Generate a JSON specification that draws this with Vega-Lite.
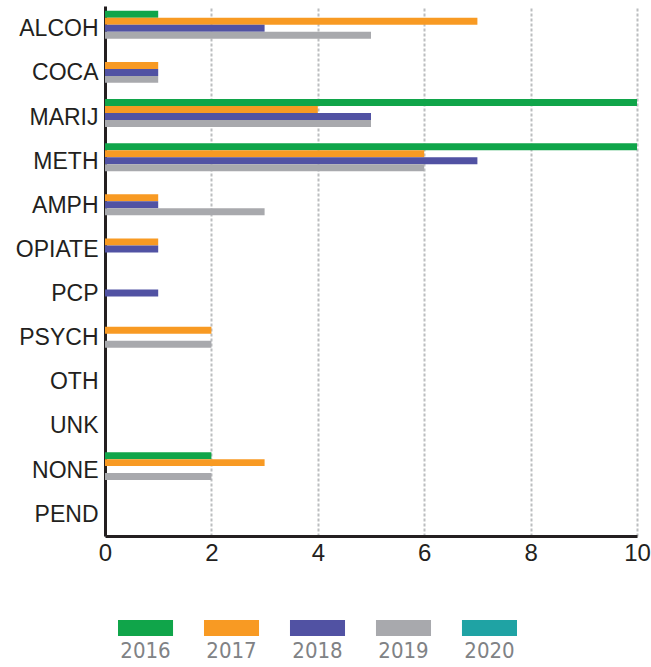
{
  "$schema": "https://vega.github.io/schema/vega-lite/v6.json",
  "padding": {"left": 5, "top": 6, "right": 5, "bottom": 0},
  "background": "white",
  "spacing": 55,
  "config": {"view": {"stroke": null}, "font": "Liberation Sans"},
  "vconcat": [
    {
      "width": 532,
      "height": 530,
      "data": {"values": [
        {"drug": "ALCOH", "year": "2016", "count": 1},
        {"drug": "ALCOH", "year": "2017", "count": 7},
        {"drug": "ALCOH", "year": "2018", "count": 3},
        {"drug": "ALCOH", "year": "2019", "count": 5},
        {"drug": "COCA", "year": "2017", "count": 1},
        {"drug": "COCA", "year": "2018", "count": 1},
        {"drug": "COCA", "year": "2019", "count": 1},
        {"drug": "MARIJ", "year": "2016", "count": 10},
        {"drug": "MARIJ", "year": "2017", "count": 4},
        {"drug": "MARIJ", "year": "2018", "count": 5},
        {"drug": "MARIJ", "year": "2019", "count": 5},
        {"drug": "METH", "year": "2016", "count": 10},
        {"drug": "METH", "year": "2017", "count": 6},
        {"drug": "METH", "year": "2018", "count": 7},
        {"drug": "METH", "year": "2019", "count": 6},
        {"drug": "AMPH", "year": "2017", "count": 1},
        {"drug": "AMPH", "year": "2018", "count": 1},
        {"drug": "AMPH", "year": "2019", "count": 3},
        {"drug": "OPIATE", "year": "2017", "count": 1},
        {"drug": "OPIATE", "year": "2018", "count": 1},
        {"drug": "PCP", "year": "2018", "count": 1},
        {"drug": "PSYCH", "year": "2017", "count": 2},
        {"drug": "PSYCH", "year": "2019", "count": 2},
        {"drug": "NONE", "year": "2016", "count": 2},
        {"drug": "NONE", "year": "2017", "count": 3},
        {"drug": "NONE", "year": "2019", "count": 2}
      ]},
      "mark": {"type": "bar"},
      "encoding": {
        "y": {
          "field": "drug", "type": "nominal",
          "sort": ["ALCOH","COCA","MARIJ","METH","AMPH","OPIATE","PCP","PSYCH","OTH","UNK","NONE","PEND"],
          "scale": {"domain": ["ALCOH","COCA","MARIJ","METH","AMPH","OPIATE","PCP","PSYCH","OTH","UNK","NONE","PEND"], "paddingInner": 0.21, "paddingOuter": 0.11},
          "axis": {"title": null, "ticks": false, "domainColor": "#231f20", "domainWidth": 3, "labelFontSize": 23, "labelColor": "#231f20", "labelPadding": 7, "labelOffset": 1, "minExtent": 100, "maxExtent": 100}
        },
        "yOffset": {
          "field": "year", "type": "nominal",
          "scale": {"domain": ["2016","2017","2018","2019","2020"], "paddingInner": 0, "paddingOuter": 0}
        },
        "x": {
          "field": "count", "type": "quantitative",
          "scale": {"domain": [0, 10], "nice": false},
          "axis": {"title": null, "ticks": false, "values": [0,2,4,6,8,10], "labelFlush": false, "domainColor": "#231f20", "domainWidth": 3, "labelFontSize": 24, "labelColor": "#231f20", "labelPadding": 5, "grid": true, "gridColor": "#bcbec0", "gridDash": [3, 2], "gridWidth": 2}
        },
        "color": {
          "field": "year", "type": "nominal",
          "scale": {"domain": ["2016","2017","2018","2019","2020"], "range": ["#10a54a","#f89a23","#5152a3","#a8a9ad","#1fa3a4"]},
          "legend": null
        }
      }
    },
    {
      "width": 532,
      "height": 16,
      "data": {"values": [
        {"year": "2016"}, {"year": "2017"}, {"year": "2018"}, {"year": "2019"}, {"year": "2020"}
      ]},
      "mark": {"type": "bar"},
      "encoding": {
        "x": {
          "field": "year", "type": "nominal",
          "scale": {"range": [13, 412], "paddingInner": 0.36, "paddingOuter": 0},
          "axis": {"title": null, "orient": "bottom", "domain": false, "ticks": false, "labelAngle": 0, "labelFont": "'DejaVu Sans Condensed', 'Liberation Sans', sans-serif", "labelFontSize": 22, "labelColor": "#808285", "labelPadding": 4}
        },
        "color": {
          "field": "year", "type": "nominal",
          "scale": {"domain": ["2016","2017","2018","2019","2020"], "range": ["#10a54a","#f89a23","#5152a3","#a8a9ad","#1fa3a4"]},
          "legend": null
        }
      }
    }
  ]
}
